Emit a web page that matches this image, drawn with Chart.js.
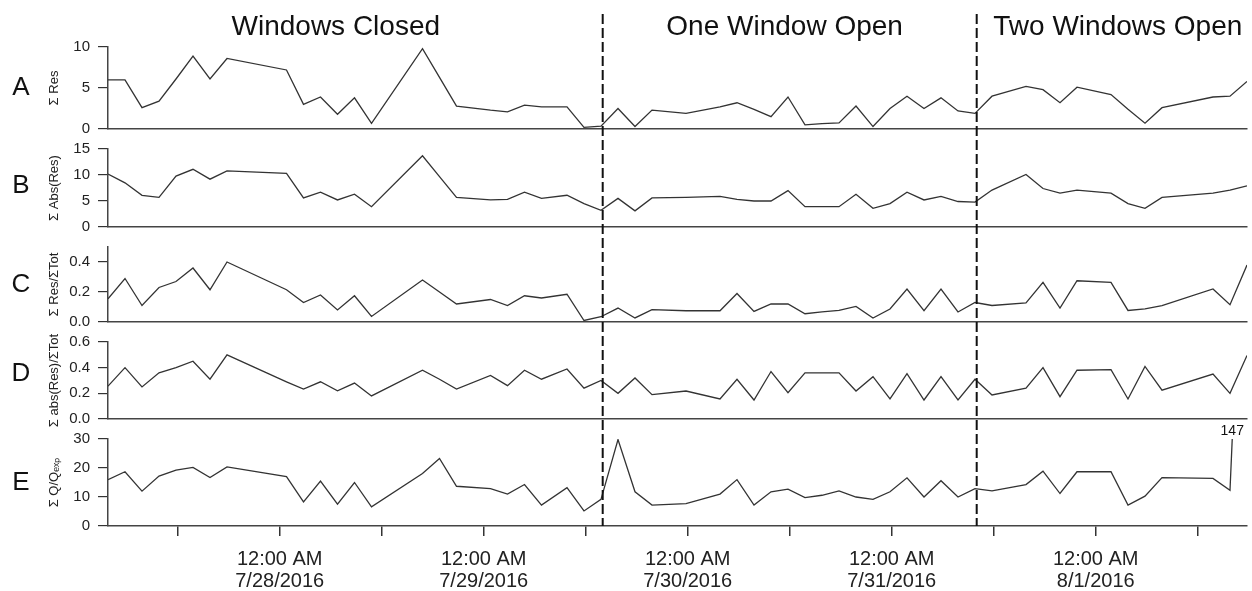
<!DOCTYPE html>
<html>
<head>
<meta charset="utf-8">
<script src="https://cdn.jsdelivr.net/npm/chart.js@4.4.1/dist/chart.umd.min.js"></script>
<style>
  html, body { margin: 0; padding: 0; background: #fff; }
  #wrap { position: relative; width: 1252px; height: 591px; }
  #wrap canvas { position: absolute; left: 0; top: 0; }
</style>
</head>
<body>
<div id="wrap">
  <canvas id="panelA" width="1252" height="591"></canvas>
  <canvas id="panelB" width="1252" height="591"></canvas>
  <canvas id="panelC" width="1252" height="591"></canvas>
  <canvas id="panelD" width="1252" height="591"></canvas>
  <canvas id="panelE" width="1252" height="591"></canvas>
</div>
<script>
// sample times, hours after 12:00 AM 7/27/2016
const hours = [3.8, 5.8, 7.8, 9.8, 11.8, 13.8, 15.8, 17.8, 24.8, 26.8, 28.8, 30.8, 32.8, 34.8,
  40.8, 42.8, 44.8, 48.8, 50.8, 52.8, 54.8, 57.8, 59.8, 61.8, 63.8, 65.8, 67.8, 71.8,
  75.8, 77.8, 79.8, 81.8, 83.8, 85.8, 87.8, 89.8, 91.8, 93.8, 95.8, 97.8, 99.8, 101.8,
  103.8, 105.8, 107.8, 111.8, 113.8, 115.8, 117.8, 121.8, 123.8, 125.8, 127.8, 133.8, 135.8, 137.8];

const sumRes = [6.0, 6.0, 2.6, 3.4, 6.1, 8.9, 6.1, 8.6, 7.2, 3.0, 3.9, 1.8, 3.8, 0.7,
  9.8, 6.3, 2.8, 2.3, 2.1, 2.9, 2.7, 2.7, 0.2, 0.35, 2.5, 0.3, 2.3, 1.9,
  2.7, 3.2, 2.4, 1.5, 3.9, 0.5, 0.65, 0.75, 2.8, 0.3, 2.5, 4.0, 2.5, 3.8,
  2.2, 1.9, 4.0, 5.2, 4.8, 3.2, 5.1, 4.2, 2.4, 0.7, 2.6, 3.9, 4.0, 5.8];

const sumAbsRes = [10.2, 8.5, 6.1, 5.7, 9.8, 11.1, 9.2, 10.8, 10.3, 5.6, 6.7, 5.2, 6.3, 3.9,
  13.7, 9.7, 5.7, 5.2, 5.3, 6.7, 5.5, 6.1, 4.5, 3.2, 5.5, 3.1, 5.6, 5.7,
  5.9, 5.3, 5.0, 5.0, 7.0, 3.9, 3.9, 3.9, 6.3, 3.6, 4.5, 6.7, 5.2, 5.9,
  4.9, 4.8, 7.1, 10.1, 7.4, 6.5, 7.1, 6.5, 4.5, 3.6, 5.7, 6.5, 7.1, 7.9];

const resOverTot = [0.155, 0.29, 0.11, 0.23, 0.27, 0.36, 0.215, 0.40, 0.215, 0.13, 0.18, 0.08, 0.175, 0.037,
  0.28, 0.20, 0.12, 0.15, 0.11, 0.175, 0.16, 0.185, 0.01, 0.035, 0.093, 0.027, 0.082, 0.075,
  0.075, 0.19, 0.071, 0.12, 0.12, 0.055, 0.067, 0.077, 0.104, 0.027, 0.087, 0.22, 0.075, 0.22,
  0.067, 0.13, 0.11, 0.127, 0.264, 0.093, 0.275, 0.264, 0.077, 0.087, 0.109, 0.22, 0.115, 0.38];

const absResOverTot = [0.256, 0.40, 0.25, 0.36, 0.40, 0.45, 0.31, 0.50, 0.29, 0.233, 0.29, 0.22, 0.28, 0.18,
  0.38, 0.31, 0.233, 0.34, 0.26, 0.38, 0.31, 0.39, 0.24, 0.30, 0.20, 0.32, 0.19, 0.218,
  0.156, 0.31, 0.148, 0.37, 0.205, 0.36, 0.36, 0.36, 0.218, 0.33, 0.156, 0.354, 0.148, 0.33,
  0.148, 0.31, 0.187, 0.24, 0.40, 0.174, 0.38, 0.385, 0.156, 0.41, 0.225, 0.35, 0.20, 0.495];

const qOverQexp = [16.0, 18.7, 12.0, 17.2, 19.3, 20.2, 16.7, 20.4, 17.0, 8.3, 15.5, 7.5, 15.0, 6.6,
  18.1, 23.3, 13.7, 12.9, 11.0, 14.3, 7.2, 13.2, 5.2, 9.2, 29.8, 11.8, 7.2, 7.75,
  11.0, 16.0, 7.2, 11.8, 12.7, 9.8, 10.6, 12.1, 10.0, 9.2, 11.8, 16.6, 10.0, 15.6,
  10.0, 12.9, 12.1, 14.3, 18.9, 11.2, 18.7, 18.7, 7.2, 10.3, 16.7, 16.4, 12.3, 147];

// x axis ticks every 12 h, labels only at midnight
const tickHours = [12, 24, 36, 48, 60, 72, 84, 96, 108, 120, 132];
const tickLabels = ['', ['12:00 AM', '7/28/2016'], '', ['12:00 AM', '7/29/2016'], '',
  ['12:00 AM', '7/30/2016'], '', ['12:00 AM', '7/31/2016'], '', ['12:00 AM', '8/1/2016'], ''];

// window state changes and section headings
const windowChanges = [62, 106];
const sectionNames = ['Windows Closed', 'One Window Open', 'Two Windows Open'];
const sectionCenters = [30.6, 83.4, 122.6];

const FONT = '"Liberation Sans", Arial, Helvetica, sans-serif';
Chart.defaults.font.family = FONT;

const panels = [
  { id: 'panelA', letter: 'A', letterAt: 5, title: 'Σ Res', values: sumRes, max: 10, step: 5, digits: 0, box: [47, 129] },
  { id: 'panelB', letter: 'B', letterAt: 8, title: 'Σ Abs(Res)', values: sumAbsRes, max: 15, step: 5, digits: 0, box: [149, 227] },
  { id: 'panelC', letter: 'C', letterAt: 0.25, title: 'Σ Res/ΣTot', values: resOverTot, max: 0.5, step: 0.2, digits: 1, box: [247, 322] },
  { id: 'panelD', letter: 'D', letterAt: 0.35, title: 'Σ abs(Res)/ΣTot', values: absResOverTot, max: 0.6, step: 0.2, digits: 1, box: [342, 419] },
  { id: 'panelE', letter: 'E', letterAt: 15, title: 'Σ Q/Qₑₓₚ', values: qOverQexp, max: 30, step: 10, digits: 0, box: [439, 526] }
];

// big panel letter left of each y axis
const panelLetter = {
  id: 'panelLetter',
  afterDraw(chart, args, opts) {
    const {ctx} = chart;
    ctx.save();
    ctx.font = '26px ' + FONT;
    ctx.fillStyle = '#111';
    ctx.textAlign = 'center';
    ctx.textBaseline = 'middle';
    ctx.fillText(opts.letter, 21, chart.scales.y.getPixelForValue(opts.at));
    ctx.restore();
  }
};

// dashed lines, section headings and the off-scale value label
const windowOverlay = {
  id: 'windowOverlay',
  afterDraw(chart) {
    const {ctx, chartArea, scales: {x, y}} = chart;
    ctx.save();
    ctx.strokeStyle = '#111';
    ctx.lineWidth = 2;
    ctx.setLineDash([10, 4]);
    windowChanges.forEach(h => {
      const px = x.getPixelForValue(h);
      ctx.beginPath();
      ctx.moveTo(px, 14);
      ctx.lineTo(px, chartArea.bottom);
      ctx.stroke();
    });
    ctx.setLineDash([]);

    ctx.fillStyle = '#111';
    ctx.font = '28px ' + FONT;
    ctx.textAlign = 'center';
    ctx.textBaseline = 'middle';
    sectionNames.forEach((name, i) => {
      ctx.fillText(name, x.getPixelForValue(sectionCenters[i]), 27);
    });

    const pts = chart.data.datasets[0].data;
    ctx.font = '14px ' + FONT;
    ctx.textBaseline = 'alphabetic';
    pts.forEach((pt, j) => {
      if (j > 0 && pt.y > y.max) {
        const prev = pts[j - 1];
        const t = (y.max - prev.y) / (pt.y - prev.y);
        const hx = prev.x + t * (pt.x - prev.x);
        ctx.fillText(String(pt.y), x.getPixelForValue(hx), chartArea.top - 4);
      }
    });
    ctx.restore();
  }
};

panels.forEach((p, i) => {
  const isBottom = i === panels.length - 1;
  const xAxisHeight = isBottom ? 62 : 0;
  new Chart(document.getElementById(p.id), {
    type: 'line',
    data: {
      datasets: [{
        data: hours.map((h, j) => ({ x: h, y: p.values[j] })),
        borderColor: '#333',
        borderWidth: 1.3,
        pointRadius: 0,
        tension: 0,
        fill: false
      }]
    },
    options: {
      responsive: false,
      animation: false,
      devicePixelRatio: 1,
      layout: { padding: { top: p.box[0], bottom: 591 - p.box[1] - xAxisHeight, left: 0, right: 5 } },
      plugins: {
        legend: { display: false },
        tooltip: { enabled: false },
        panelLetter: { letter: p.letter, at: p.letterAt }
      },
      scales: {
        x: {
          type: 'linear',
          min: hours[0],
          max: hours[hours.length - 1],
          afterBuildTicks: s => { s.ticks = tickHours.map(v => ({ value: v })); },
          afterFit: s => { s.height = xAxisHeight; },
          grid: { display: isBottom, drawOnChartArea: false, tickLength: 10, color: '#333', lineWidth: 1.5 },
          border: { display: true, color: '#444', width: 1.5 },
          ticks: {
            display: isBottom,
            autoSkip: false,
            maxRotation: 0,
            padding: 12,
            color: '#222',
            font: { size: 20, lineHeight: 1.1 },
            callback: v => tickLabels[tickHours.indexOf(v)]
          }
        },
        y: {
          min: 0,
          max: p.max,
          afterBuildTicks: s => {
            s.ticks = s.ticks.filter(t => Math.abs(t.value / p.step - Math.round(t.value / p.step)) < 1e-6);
          },
          afterFit: s => { s.width = 108; },
          grid: { drawOnChartArea: false, tickLength: 10, color: '#333', lineWidth: 1.2 },
          border: { display: true, color: '#444', width: 1.5 },
          ticks: {
            stepSize: p.step,
            padding: 8,
            color: '#222',
            font: { size: 15 },
            callback: v => v.toFixed(p.digits)
          },
          title: { display: true, text: p.title, color: '#222', font: { size: 13 }, padding: { top: 47, bottom: 0 } }
        }
      }
    },
    plugins: isBottom ? [panelLetter, windowOverlay] : [panelLetter]
  });
});
</script>
</body>
</html>
